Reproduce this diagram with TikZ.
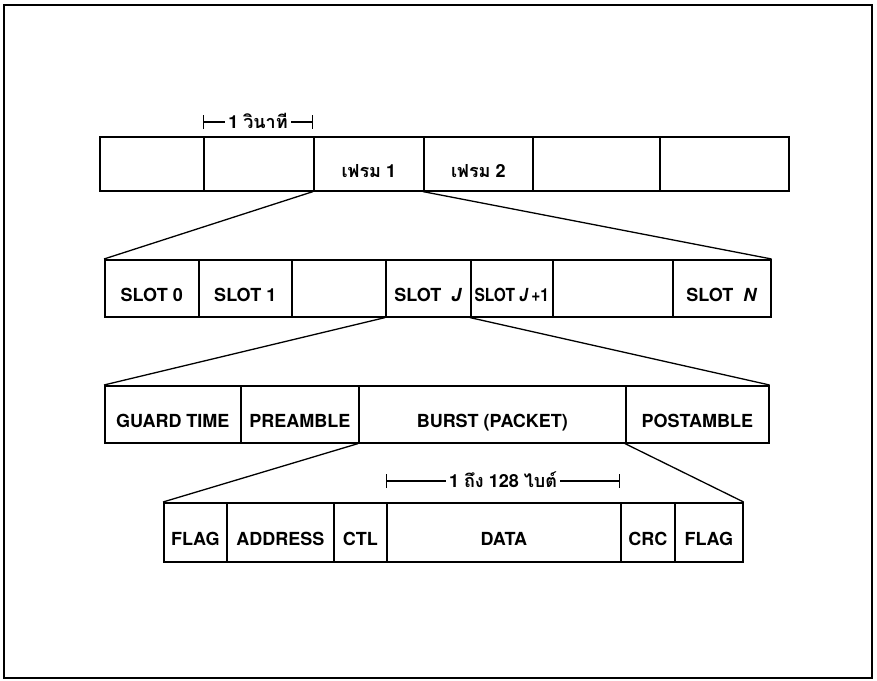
\documentclass[tikz,border=0pt]{standalone}
\usepackage{graphicx}
\usepackage{fontspec}
\setmainfont{TeX Gyre Heros}
\newfontfamily\thai[Script=Thai]{Loma}
\usetikzlibrary{arrows.meta}
\begin{document}
\begin{tikzpicture}[x=1pt,y=-1pt,
  cell/.style={draw, line width=1.6pt, anchor=north west, inner sep=0pt,
    text height=27pt, text depth=0pt, font=\fontsize{18}{20}\selectfont\bfseries},
  rowA/.style={cell, minimum height=54pt},
  rowB/.style={cell, minimum height=57pt},
  rowC/.style={cell, minimum height=57pt},
  rowD/.style={cell, minimum height=59pt},
  link/.style={line width=1.3pt},
  dim/.style={line width=1.2pt, {Bar[width=14pt,line width=1.2pt]}-{Bar[width=14pt,line width=1.2pt]}},
  dimlbl/.style={fill=white, inner sep=3pt, text height=13pt, text depth=0pt,
    font=\fontsize{18}{20}\selectfont\bfseries}]
\useasboundingbox (0,0) rectangle (877,680);
\draw[line width=2pt] (4,5) rectangle (872,678);

% Row 1: frames
\node[rowA, minimum width=104pt] (r1a) at (99,136) {};
\node[rowA, minimum width=110pt] (r1b) at (203,136) {};
\node[rowA, minimum width=110pt] (r1c) at (313,136) {{\thai เฟรม} 1};
\node[rowA, minimum width=109pt] (r1d) at (423,136) {{\thai เฟรม} 2};
\node[rowA, minimum width=127pt] (r1e) at (532,136) {};
\node[rowA, minimum width=129pt] (r1f) at (659,136) {};

\coordinate (d1a) at (203,122);
\coordinate (d1b) at (313,122);
\draw[dim] (d1a) -- node[dimlbl] (d1l) {1 {\thai วินาที}} (d1b);

% Row 2: slots
\node[rowB, minimum width=94pt] (r2a) at (104,259) {SLOT 0};
\node[rowB, minimum width=93pt] (r2b) at (198,259) {SLOT 1};
\node[rowB, minimum width=94pt] (r2c) at (291,259) {};
\node[rowB, minimum width=85pt] (r2d) at (385,259) {SLOT\ \ \textit{J}};
\node[rowB, minimum width=82pt] (r2e) at (470,259) {\scalebox{0.86}[1]{SLOT \textit{J}\,+1}};
\node[rowB, minimum width=120pt] (r2f) at (552,259) {};
\node[rowB, minimum width=98pt] (r2g) at (672,259) {SLOT\ \ \textit{N}};

% Row 3: burst
\node[rowC, minimum width=136pt] (r3a) at (104,385) {GUARD TIME};
\node[rowC, minimum width=118pt] (r3b) at (240,385) {PREAMBLE};
\node[rowC, minimum width=267pt] (r3c) at (358,385) {BURST (PACKET)};
\node[rowC, minimum width=143pt] (r3d) at (625,385) {POSTAMBLE};

% Row 4: packet
\node[rowD, minimum width=63pt] (r4a) at (163,502) {FLAG};
\node[rowD, minimum width=107pt] (r4b) at (226,502) {ADDRESS};
\node[rowD, minimum width=53pt] (r4c) at (333,502) {CTL};
\node[rowD, minimum width=234pt] (r4d) at (386,502) {DATA};
\node[rowD, minimum width=54pt] (r4e) at (620,502) {CRC};
\node[rowD, minimum width=68pt] (r4f) at (674,502) {FLAG};

\coordinate (d2a) at (386,481);
\coordinate (d2b) at (620,481);
\draw[dim] (d2a) -- node[dimlbl] (d2l) {1 {\thai ถึง} 128 {\thai ไบต์}} (d2b);

% Expansion connectors
\draw[link] (r1c.south west) -- (r2a.north west);
\draw[link] (r1d.south west) -- (r2g.north east);
\draw[link] (r2d.south west) -- (r3a.north west);
\draw[link] (r2e.south west) -- (r3d.north east);
\draw[link] (r3c.south west) -- (r4a.north west);
\draw[link] (r3d.south west) -- (r4f.north east);
\end{tikzpicture}
\end{document}
